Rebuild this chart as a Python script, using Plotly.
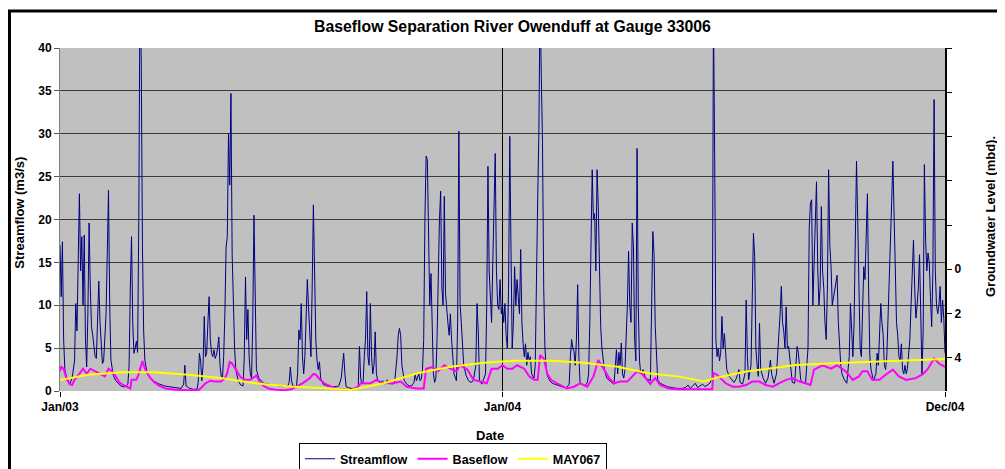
import plotly.graph_objects as go
import pandas as pd

# days counted from 1 Jan 2003
START = "2003-01-01"

flow_day = [
    0, 1, 2, 3, 4, 6, 8, 10, 12, 13, 14, 16, 17, 18, 19, 20, 21, 22, 23, 24,
    25, 26, 27, 28, 29, 30, 32, 33, 34, 35, 36, 38, 39, 40, 41, 42, 44, 46, 48, 50,
    52, 54, 56, 57, 58, 59, 60, 61, 62, 63, 64, 65, 66, 67, 68, 69, 70, 72, 75, 78,
    82, 86, 90, 95, 100, 102, 103, 104, 107, 110, 113, 114, 115, 116, 117, 118, 119, 120, 121, 122,
    123, 124, 125, 126, 127, 128, 129, 130, 131, 132, 133, 134, 135, 136, 137, 138, 139, 140, 141, 142,
    143, 144, 145, 147, 149, 151, 152, 153, 154, 155, 156, 157, 158, 159, 160, 161, 162, 164, 166, 168,
    172, 176, 180, 184, 188, 189, 190, 191, 192, 195, 196, 197, 198, 199, 200, 201, 202, 203, 204, 205,
    206, 207, 208, 209, 210, 211, 212, 213, 214, 215, 217, 220, 224, 228, 230, 232, 233, 234, 235, 236,
    238, 240, 243, 246, 247, 248, 249, 250, 251, 252, 253, 254, 255, 256, 257, 258, 259, 260, 261, 262,
    264, 266, 268, 270, 272, 274, 276, 278, 279, 280, 281, 282, 284, 286, 288, 290, 292, 293, 294, 295,
    296, 297, 298, 299, 300, 301, 302, 303, 304, 305, 306, 307, 308, 309, 310, 311, 312, 313, 314, 315,
    316, 317, 318, 319, 320, 321, 322, 323, 324, 325, 327, 328, 329, 330, 331, 332, 333, 335, 337, 339,
    341, 343, 344, 345, 346, 348, 350, 351, 352, 353, 354, 355, 356, 357, 358, 359, 360, 361, 362, 363,
    364, 365, 366, 367, 368, 369, 370, 371, 372, 373, 374, 375, 376, 377, 378, 379, 380, 381, 382, 383,
    384, 385, 386, 387, 388, 389, 390, 391, 392, 393, 394, 395, 396, 397, 398, 399, 400, 401, 402, 404,
    406, 408, 410, 412, 414, 416, 418, 420, 421, 422, 423, 424, 425, 426, 427, 428, 429, 431, 433, 435,
    436, 437, 438, 439, 440, 441, 442, 443, 444, 445, 446, 447, 448, 449, 451, 453, 455, 457, 458, 459,
    460, 461, 462, 463, 464, 465, 466, 467, 468, 469, 470, 471, 472, 473, 474, 475, 476, 477, 478, 479,
    481, 483, 485, 487, 489, 490, 491, 492, 493, 495, 498, 501, 505, 509, 513, 516, 518, 520, 522, 524,
    526, 528, 530, 532, 534, 536, 538, 539, 540, 541, 542, 543, 544, 545, 546, 547, 548, 549, 550, 552,
    554, 556, 558, 560, 561, 563, 565, 566, 567, 568, 570, 571, 572, 573, 574, 575, 576, 577, 578, 580,
    582, 584, 586, 587, 589, 591, 593, 594, 595, 596, 597, 598, 599, 600, 601, 602, 603, 604, 606, 607,
    608, 609, 610, 611, 613, 615, 617, 618, 619, 620, 621, 622, 623, 624, 625, 626, 627, 628, 629, 630,
    631, 632, 633, 634, 635, 636, 637, 638, 639, 640, 641, 642, 643, 644, 645, 647, 649, 651, 652, 653,
    654, 655, 656, 657, 658, 659, 660, 661, 662, 663, 664, 665, 666, 667, 668, 669, 671, 673, 674, 675,
    676, 677, 678, 679, 680, 681, 682, 683, 684, 685, 686, 687, 688, 689, 690, 691, 692, 693, 694, 695,
    696, 697, 698, 699, 700, 701, 702, 703, 704, 705, 706, 707, 708, 709, 710, 711, 712, 713, 714, 715,
    716, 717, 718, 719, 720, 721, 722, 723, 724, 725, 726, 727, 728, 729, 730,
]
flow_val = [
    17.0, 11.0, 17.4, 6.0, 2.5, 1.2, 0.8, 1.5, 3.5, 10.2, 7.0, 23.0, 14.0, 18.0, 10.0, 18.2, 6.0, 2.8, 9.0, 19.6,
    12.0, 7.5, 6.5, 5.0, 4.0, 3.8, 12.8, 8.0, 5.0, 3.2, 3.5, 9.0, 16.0, 23.4, 10.0, 3.6, 1.8, 1.2, 0.9, 0.6,
    0.5, 0.5, 0.8, 3.0, 12.0, 18.0, 8.0, 4.4, 5.0, 5.8, 4.5, 20.0, 48.0, 38.6, 17.0, 7.0, 3.6, 2.0, 1.5, 1.1,
    0.8, 0.6, 0.5, 0.4, 0.3, 0.8, 3.0, 0.6, 0.3, 0.2, 0.2, 1.0, 4.4, 3.5, 1.2, 3.0, 8.7, 4.0, 4.4, 8.0,
    11.0, 6.0, 4.4, 4.0, 4.8, 3.8, 4.2, 5.0, 6.3, 3.0, 1.7, 1.5, 4.0, 9.0, 16.8, 18.0, 30.0, 24.0, 34.7, 16.0,
    9.8, 5.0, 2.5, 1.2, 0.7, 0.6, 4.0, 13.3, 6.0, 9.5, 4.0, 2.0, 1.5, 8.0, 20.5, 11.0, 2.5, 1.5, 1.2, 0.9,
    0.8, 0.7, 0.6, 0.5, 0.6, 1.0, 2.8, 1.2, 0.6, 0.5, 2.0, 7.1, 6.0, 10.2, 4.0, 2.0, 4.0, 8.0, 13.0, 9.8,
    6.0, 4.0, 12.0, 21.7, 14.0, 6.0, 3.6, 2.5, 3.4, 1.5, 0.8, 0.6, 0.5, 0.5, 0.6, 1.5, 3.0, 4.4, 2.0, 0.5,
    0.4, 0.3, 0.3, 0.5, 5.2, 1.5, 0.8, 1.0, 4.0, 6.0, 11.6, 4.0, 3.0, 10.2, 4.0, 2.0, 3.0, 6.9, 2.0, 1.3,
    0.9, 1.2, 0.8, 1.3, 0.9, 0.8, 1.0, 4.0, 6.5, 7.3, 6.5, 3.0, 1.2, 0.8, 0.6, 0.6, 1.0, 2.0, 1.2, 1.5,
    2.0, 1.2, 1.4, 2.5, 6.0, 20.0, 27.4, 27.0, 16.0, 10.0, 13.7, 6.0, 2.0, 1.0, 1.5, 6.0, 15.0, 20.0, 23.3, 12.0,
    10.0, 22.7, 11.4, 9.0, 7.9, 6.5, 9.0, 6.0, 4.0, 2.0, 1.2, 8.0, 30.3, 10.2, 8.0, 6.0, 3.0, 1.8, 1.2, 1.0,
    1.2, 3.0, 10.2, 7.0, 1.2, 0.8, 1.5, 2.0, 10.0, 26.2, 14.0, 11.0, 8.0, 15.0, 20.0, 27.7, 14.0, 10.0, 9.5, 13.0,
    9.0, 10.0, 8.0, 10.2, 6.5, 5.0, 12.0, 29.7, 16.5, 5.0, 8.0, 14.5, 10.0, 13.0, 11.0, 9.0, 16.5, 8.0, 5.5, 4.0,
    5.5, 3.0, 4.5, 3.5, 4.0, 2.0, 1.7, 1.5, 3.0, 15.0, 22.3, 30.0, 46.0, 36.7, 29.0, 12.0, 5.0, 2.8, 1.8, 1.2,
    0.9, 0.8, 0.7, 0.6, 0.5, 0.4, 0.4, 0.8, 4.0, 6.0, 5.0, 4.6, 3.0, 6.0, 12.4, 4.0, 0.9, 0.7, 0.6, 1.0,
    2.0, 8.0, 17.2, 25.8, 20.0, 20.7, 14.0, 25.8, 21.5, 14.0, 7.5, 5.0, 4.0, 2.5, 1.5, 1.2, 1.0, 0.8, 2.5, 4.8,
    2.0, 4.5, 3.0, 5.6, 2.0, 1.5, 2.5, 6.0, 10.0, 16.3, 10.0, 8.0, 19.6, 16.8, 6.0, 3.5, 28.3, 10.0, 3.6, 2.0,
    2.5, 1.5, 1.3, 1.2, 18.6, 16.0, 7.5, 3.0, 1.3, 0.9, 0.7, 0.5, 0.4, 0.3, 0.3, 0.4, 0.7, 0.3, 0.6, 0.9,
    0.4, 0.6, 0.8, 0.5, 0.7, 0.9, 1.5, 45.0, 27.5, 6.0, 4.0, 5.0, 3.5, 4.5, 8.7, 5.0, 6.7, 4.0, 2.5, 1.7,
    1.3, 1.0, 1.5, 2.5, 1.0, 0.8, 2.0, 10.6, 4.0, 1.3, 3.0, 11.0, 18.4, 15.7, 5.0, 3.0, 1.7, 7.9, 2.5, 1.5,
    0.9, 1.5, 3.6, 2.0, 0.9, 2.0, 6.0, 9.0, 12.2, 8.0, 7.0, 5.0, 9.8, 5.0, 5.2, 3.6, 2.0, 1.0, 0.9, 3.0,
    5.2, 4.5, 3.0, 1.3, 0.9, 1.0, 5.0, 19.0, 21.9, 22.3, 10.0, 14.0, 18.0, 24.4, 14.5, 10.0, 12.0, 21.5, 14.0, 12.0,
    8.0, 6.0, 12.0, 25.8, 17.0, 14.5, 10.0, 11.0, 12.0, 12.6, 13.5, 8.0, 5.0, 3.0, 2.0, 1.3, 0.9, 4.0, 10.2, 6.0,
    4.0, 8.0, 18.0, 26.8, 20.0, 12.0, 5.0, 4.0, 10.0, 14.5, 13.0, 18.0, 23.0, 12.0, 4.0, 2.5, 1.2, 2.0, 4.4, 3.0,
    6.0, 10.2, 8.0, 6.5, 3.0, 2.5, 4.0, 8.0, 12.0, 16.8, 22.0, 26.8, 19.2, 12.0, 8.0, 6.5, 4.0, 3.6, 5.5, 2.5,
    2.0, 3.0, 2.0, 2.6, 4.0, 6.0, 10.0, 14.0, 17.6, 12.0, 8.5, 10.0, 12.0, 15.9, 9.0, 2.0, 7.0, 26.4, 17.6, 14.0,
    16.1, 15.0, 11.0, 7.5, 14.0, 34.0, 14.0, 10.0, 9.0, 10.0, 12.2, 8.0, 10.6, 8.5, 4.4,
]

base_day = [
    0, 1, 3, 5, 8, 10, 12, 14, 16, 19, 22, 25, 29, 33, 37, 40, 43, 46, 49, 52,
    56, 58, 59, 63, 65, 66, 67, 68, 70, 74, 78, 82, 87, 95, 105, 114, 116, 120, 124, 128,
    133, 136, 138, 140, 142, 145, 149, 153, 157, 160, 162, 165, 168, 172, 178, 185, 191, 196, 200, 204,
    206, 209, 211, 214, 219, 224, 228, 234, 240, 246, 248, 256, 261, 265, 270, 275, 281, 286, 294, 300,
    302, 307, 312, 317, 322, 327, 330, 336, 341, 347, 352, 356, 361, 365, 369, 373, 377, 383, 387, 391,
    394, 396, 399, 402, 405, 410, 418, 424, 429, 435, 440, 444, 449, 453, 457, 462, 468, 472, 476, 480,
    484, 487, 489, 491, 495, 502, 510, 538, 539, 542, 549, 555, 560, 566, 571, 577, 582, 588, 593, 599,
    604, 610, 615, 619, 622, 629, 636, 641, 648, 654, 659, 662, 666, 670, 676, 681, 687, 692, 698, 706,
    712, 716, 721, 725, 730,
]
base_val = [
    2.3, 2.8, 2.6, 1.6, 0.8, 0.7, 1.3, 1.6, 2.0, 2.6, 2.0, 2.6, 2.3, 2.0, 1.7, 2.6, 2.3, 1.7, 1.0, 0.7,
    0.4, 0.3, 1.3, 1.3, 2.0, 2.5, 3.3, 3.5, 2.6, 1.6, 1.0, 0.6, 0.3, 0.15, 0.1, 0.1, 0.3, 0.9, 1.2, 1.1,
    1.1, 1.5, 2.1, 3.4, 3.2, 2.5, 1.6, 1.3, 1.3, 1.6, 1.8, 1.0, 0.6, 0.3, 0.15, 0.1, 0.2, 0.6, 0.9, 1.3,
    1.5, 2.0, 1.9, 1.4, 0.8, 0.5, 0.3, 0.2, 0.1, 0.5, 0.9, 0.9, 1.3, 1.0, 0.9, 0.9, 1.1, 0.5, 0.3, 0.3,
    2.6, 2.8, 2.3, 3.0, 2.6, 2.3, 3.0, 2.5, 1.3, 1.1, 0.9, 2.6, 2.6, 3.0, 2.6, 2.6, 3.0, 2.6, 1.7, 1.3,
    1.3, 4.2, 3.8, 2.0, 1.3, 0.9, 0.3, 0.5, 0.9, 0.5, 1.7, 3.6, 2.5, 1.5, 0.9, 1.1, 1.1, 1.7, 2.3, 2.0,
    1.3, 0.8, 1.2, 1.5, 0.7, 0.3, 0.2, 0.2, 2.1, 1.9, 0.9, 0.5, 0.5, 0.7, 1.1, 1.1, 0.7, 0.5, 0.9, 1.3,
    1.5, 1.1, 0.9, 0.7, 2.5, 3.0, 2.6, 3.0, 2.3, 1.3, 1.7, 2.3, 2.3, 1.3, 1.3, 1.9, 2.5, 1.7, 1.3, 1.5,
    2.0, 2.6, 3.8, 3.2, 2.8,
]

# groundwater level, metres below datum (right axis, reversed)
gw_day = [0, 23, 51, 78, 106, 134, 161, 189, 216, 240, 267, 295, 322, 350,
          377, 405, 432, 460, 485, 511, 531, 540, 566, 607, 648, 690, 730]
gw_val = [5.0, 4.77, 4.65, 4.65, 4.77, 4.92, 5.15, 5.3, 5.37, 5.45, 5.15, 4.7, 4.4, 4.22,
          4.13, 4.13, 4.22, 4.4, 4.7, 4.85, 5.07, 4.92, 4.62, 4.32, 4.22, 4.14, 4.05]

x_tickvals = ["2003-01-01", "2004-01-01", "2004-12-31"]
x_ticktext = ["Jan/03", "Jan/04", "Dec/04"]
flow_ticks = [0, 5, 10, 15, 20, 25, 30, 35, 40]
gw_tickvals = [-10, -8, -6, -4, -2, 0, 2, 4]
gw_ticktext = ["", "", "", "", "", "0", "2", "4"]


def to_dates(days):
    return pd.Timestamp(START) + pd.to_timedelta(days, unit="D")


def bold(items):
    return [f"<b>{t}</b>" if str(t) else "" for t in items]


FONT = "Arial, Liberation Sans, sans-serif"

fig = go.Figure()
fig.add_trace(go.Scatter(x=to_dates(flow_day), y=flow_val, name="<b>Streamflow</b>",
                         mode="lines", line=dict(color="#000080", width=1)))
fig.add_trace(go.Scatter(x=to_dates(base_day), y=base_val, name="<b>Baseflow</b>",
                         mode="lines", line=dict(color="#FF00FF", width=2)))
fig.add_trace(go.Scatter(x=to_dates(gw_day), y=gw_val, name="<b>MAY067</b>", yaxis="y2",
                         mode="lines", line=dict(color="#FFFF00", width=2)))

# page body adds an 8px offset, so the figure is laid out 8px up/left
fig.update_layout(
    width=997, height=461,
    margin=dict(l=52, r=60, t=40, b=78, autoexpand=False),
    paper_bgcolor="white",
    plot_bgcolor="#C0C0C0",
    font=dict(family=FONT, size=12, color="black"),
    title=dict(text="<b>Baseflow Separation River Owenduff at Gauge 33006</b>",
               x=0.506, xanchor="center", y=0.959, yanchor="middle",
               font=dict(size=15.8)),
    xaxis=dict(
        type="date", range=["2003-01-01", "2004-12-31"],
        tickvals=x_tickvals, ticktext=bold(x_ticktext),
        showgrid=True, gridcolor="black", gridwidth=1,
        ticks="outside", ticklen=5, tickcolor="black",
        showline=False, zeroline=False,
    ),
    yaxis=dict(
        range=[0, 40],
        tickvals=flow_ticks, ticktext=bold(flow_ticks),
        showgrid=True, gridcolor="#3a3a3a", gridwidth=1,
        ticks="outside", ticklen=5, tickcolor="#555555",
        showline=True, linecolor="#808080", linewidth=1,
        zeroline=False,
    ),
    yaxis2=dict(
        overlaying="y", side="right", range=[5.5, -10],
        tickvals=gw_tickvals, ticktext=bold(gw_ticktext),
        showgrid=False, zeroline=False,
        ticks="outside", ticklen=5, tickcolor="black",
        showline=True, linecolor="black", linewidth=2,
    ),
    showlegend=True,
    legend=dict(orientation="h", x=0.27, xanchor="left", y=-0.152, yanchor="top",
                bgcolor="white", bordercolor="black", borderwidth=1,
                font=dict(size=12.5), traceorder="normal",
                itemwidth=30, tracegroupgap=0),
    annotations=[
        dict(text="<b>Streamflow (m3/s)</b>", xref="paper", yref="paper",
             x=-0.0452, y=0.52, textangle=-90, showarrow=False,
             xanchor="center", yanchor="middle", font=dict(size=13)),
        dict(text="<b>Groundwater Level (mbd).</b>", xref="paper", yref="paper",
             x=1.0508, y=0.51, textangle=-90, showarrow=False,
             xanchor="center", yanchor="middle", font=dict(size=13)),
        dict(text="<b>Date</b>", xref="paper", yref="paper",
             x=0.486, y=-0.131, showarrow=False,
             xanchor="center", yanchor="middle", font=dict(size=13)),
    ],
    shapes=[
        dict(type="rect", xref="paper", yref="paper",
             x0=-0.0571, x1=1.12, y0=-0.5, y1=1.108,
             line=dict(color="black", width=3), fillcolor="rgba(0,0,0,0)", layer="above"),
    ],
)

fig.write_html("out.html")
